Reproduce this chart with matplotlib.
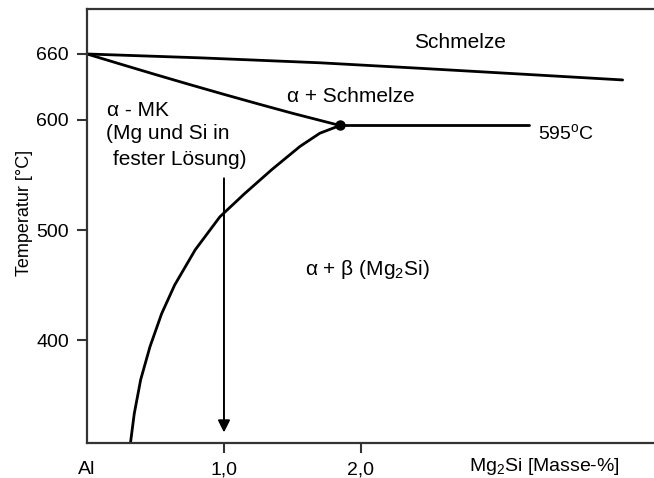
import matplotlib
matplotlib.use("Agg")
import matplotlib.pyplot as plt
import matplotlib.transforms as mtransforms

plt.rcParams['font.family'] = ['Liberation Sans', 'DejaVu Sans']
plt.rcParams['mathtext.fontset'] = 'custom'
plt.rcParams['mathtext.rm'] = 'Liberation Sans'
plt.rcParams['mathtext.it'] = 'Liberation Sans:italic'
plt.rcParams['mathtext.bf'] = 'Liberation Sans:bold'

# Linien des Zustandsdiagramms Al - Mg2Si (x in Masse-% Mg2Si, T in °C)
liquidus_x = [0.0, 0.825, 1.70, 2.43, 3.16, 3.91]
liquidus_t = [660, 656.5, 652, 647, 641.8, 636.4]

solidus_x = [0.0, 0.25, 0.5, 0.75, 1.0, 1.25, 1.5, 1.7, 1.847]
solidus_t = [660, 650.6, 641.3, 632.2, 623.3, 614.6, 606.1, 599.7, 595]

solvus_x = [0.312, 0.317, 0.345, 0.392, 0.460, 0.545, 0.64, 0.79, 0.97, 1.15, 1.35, 1.555, 1.70, 1.847]
solvus_t = [300, 306, 333, 364, 394, 424, 450, 482, 512, 533, 555, 576, 588, 595]

eutektikum_x = [1.847, 3.23]
eutektikum_t = [595, 595]

# Pfeil bei 1,0 % Mg2Si
pfeil_x = 1.0
pfeil_t_start = 547
pfeil_t_ende = 316

y_ticks = [400, 500, 600, 660]
x_ticks = [0, 1, 2]
x_labels = ['Al', '1,0', '2,0']

fig = plt.figure(figsize=(6.54, 4.78), dpi=100)
ax = fig.add_axes([0.133, 0.0732, 0.867, 0.908])

for xs, ts in [(liquidus_x, liquidus_t), (solidus_x, solidus_t),
               (solvus_x, solvus_t), (eutektikum_x, eutektikum_t)]:
    ax.plot(xs, ts, color='black', lw=2.0, solid_capstyle='round',
            solid_joinstyle='round')
ax.plot([eutektikum_x[0]], [eutektikum_t[0]], 'o', color='black', ms=6.5)

ax.annotate('', xy=(pfeil_x, pfeil_t_ende), xytext=(pfeil_x, pfeil_t_start),
            arrowprops=dict(arrowstyle='-|>', lw=1.4, color='black',
                            mutation_scale=18, shrinkA=0, shrinkB=0))

fs = 15
ax.text(2.72, 670, 'Schmelze', fontsize=fs, ha='center', va='center')
ax.text(1.927, 621, 'α + Schmelze', fontsize=fs, ha='center', va='center')
ax.text(0.145, 609, 'α - MK', fontsize=fs, ha='left', va='center')
ax.text(0.14, 588, '(Mg und Si in', fontsize=fs, ha='left', va='center')
ax.text(0.19, 564, 'fester Lösung)', fontsize=fs, ha='left', va='center')
ax.text(3.29, 588, r'595$^{\mathrm{o}}$C', fontsize=14, ha='left', va='center')
ax.text(2.044, 464, r'α + β ($\mathregular{Mg_2Si}$)', fontsize=fs, ha='center', va='center')

ax.set_xlim(0, 4.139)
ax.set_ylim(306.4, 700.9)

ax.set_yticks(y_ticks)
ax.set_xticks(x_ticks, x_labels)
ax.tick_params(axis='both', direction='out', length=7, width=1.5,
               labelsize=14, pad=6, color='#333333')
ax.xaxis.get_major_ticks()[0].tick1line.set_visible(False)

# Achsenbeschriftung x auf Höhe der Tick-Labels
trans = mtransforms.blended_transform_factory(ax.transData, ax.transAxes)
ax.text(3.34, -0.055, r'$\mathregular{Mg_2Si}$ [Masse-%]', fontsize=14,
        ha='center', va='center', transform=trans)

ax.set_ylabel('Temperatur [°C]', fontsize=13)
ax.yaxis.set_label_coords(-0.095, 0.531)

ax.spines['right'].set_visible(False)
for s in ('left', 'top', 'bottom'):
    ax.spines[s].set_linewidth(1.6)
    ax.spines[s].set_color('#333333')

fig.savefig('out.png', dpi=100)
